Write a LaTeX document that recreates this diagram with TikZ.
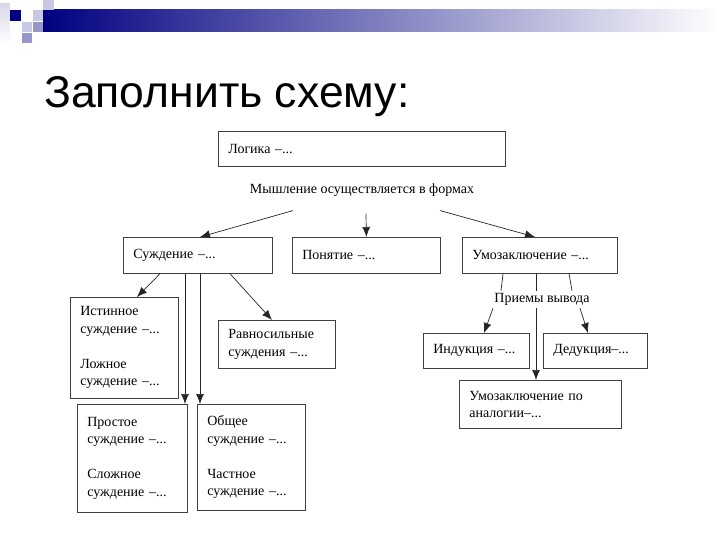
\documentclass[tikz,border=0pt]{standalone}
\usepackage{fontspec}
\setmainfont{Liberation Serif}
\newfontfamily\titlefont{Liberation Sans}
\usetikzlibrary{arrows.meta,calc}

\definecolor{navy}{RGB}{0,0,128}
\definecolor{lilac}{RGB}{200,200,226}
\definecolor{midlilac}{RGB}{150,150,200}

\begin{document}
\begin{tikzpicture}[x=1pt,y=-1pt]

\tikzset{box/.style = {draw=black!75, line width=0.7pt, anchor=north west, inner xsep=10pt, inner ysep=0pt, align=left, font=\fontsize{14}{17.5}\selectfont}}
\tikzset{edge/.style = {-{Latex[length=10pt,width=8pt]}, line width=0.7pt, black!85}}
\tikzset{link/.style = {line width=0.7pt, black!85}}
\tikzset{free/.style = {inner sep=0pt, font=\fontsize{14}{17.5}\selectfont}}

\useasboundingbox (0,0) rectangle (720,540);

% header bar and squares
\shade[left color=navy, right color=white] (43,10) rectangle (720,32);
\shade[top color=lilac!70, bottom color=white] (0,4) rectangle (10,44);
\fill[navy] (10,10) rectangle (21,21);
\fill[lilac] (22,22) rectangle (32,32);
\fill[midlilac] (22,33) rectangle (32,43);
\fill[lilac] (33,10) rectangle (43,21);
\fill[midlilac] (33,22) rectangle (43,32);
\fill[lilac] (43,0) rectangle (54,10);

\node[anchor=base west, inner sep=0pt, font=\titlefont\fontsize{44.5}{50}\selectfont] (title) at (44,108) {Заполнить схему:};

% boxes
\node[box, text width=267pt, minimum height=35pt] (logic) at (218,131) {Логика –...};
\node[free] (mysh) at (362,190) {Мышление осуществляется в формах};

\node[box, text width=129pt, minimum height=36pt] (sud) at (123,237) {Суждение –...};
\node[box, text width=128pt, minimum height=36pt] (pon) at (292,237) {Понятие –...};
\node[box, text width=135pt, minimum height=36pt] (umo) at (462,237) {Умозаключение –...};

\node[box, text width=88pt, minimum height=101pt] (ist) at (70,297) {Истинное\\суждение –...\\[17.5pt]Ложное\\суждение –...};
\node[box, text width=97pt, minimum height=48pt] (rav) at (218,320) {Равносильные\\суждения –...};
\node[box, text width=90pt, minimum height=108pt] (prost) at (77,404) {Простое\\суждение –...\\[17.5pt]Сложное\\суждение –...};
\node[box, text width=88pt, minimum height=106pt] (obsh) at (197,404) {Общее\\суждение –...\\[17.5pt]Частное\\суждение –...};

\node[free] (priem) at (542,299) {Приемы вывода};
\node[box, text width=86pt, minimum height=35pt] (ind) at (423,333) {Индукция –...};
\node[box, text width=84pt, minimum height=35pt] (ded) at (543,333) {Дедукция–...};
\node[box, text width=142pt, minimum height=48pt] (analog) at (459,380) {Умозаключение по\\аналогии–...};

% connectors
\draw[edge] ([xshift=-69pt,yshift=-14pt]mysh.south) -- ([xshift=77pt]sud.north west);
\draw[edge] ([xshift=4pt,yshift=-17pt]mysh.south) -- (pon.north);
\draw[edge] ([xshift=78pt,yshift=-14pt]mysh.south) -- ([xshift=73pt]umo.north west);

\draw[edge] ([xshift=37pt]sud.south west) -- ([xshift=67pt]ist.north west);
\draw[edge] ([xshift=107pt]sud.south west) -- ([xshift=54pt]rav.north west);
\draw[edge] ([xshift=62pt]sud.south west) -- ([xshift=108pt]prost.north west);
\draw[edge] ([xshift=77pt]sud.south west) -- ([xshift=3pt]obsh.north west);

\draw[link] ([xshift=41pt]umo.south west) -- ([xshift=-41pt,yshift=2pt]priem.north);
\draw[link] ([xshift=74pt]umo.south west) -- ([xshift=-6pt,yshift=2pt]priem.north);
\draw[link] ([xshift=107pt]umo.south west) -- ([xshift=30pt,yshift=2pt]priem.north);
\draw[edge] ([xshift=-49pt,yshift=-3pt]priem.south) -- ([xshift=61pt]ind.north west);
\draw[edge] ([xshift=-6pt,yshift=-3pt]priem.south) -- ([xshift=77pt]analog.north west);
\draw[edge] ([xshift=38pt,yshift=-3pt]priem.south) -- ([xshift=45pt]ded.north west);

\end{tikzpicture}
\end{document}
